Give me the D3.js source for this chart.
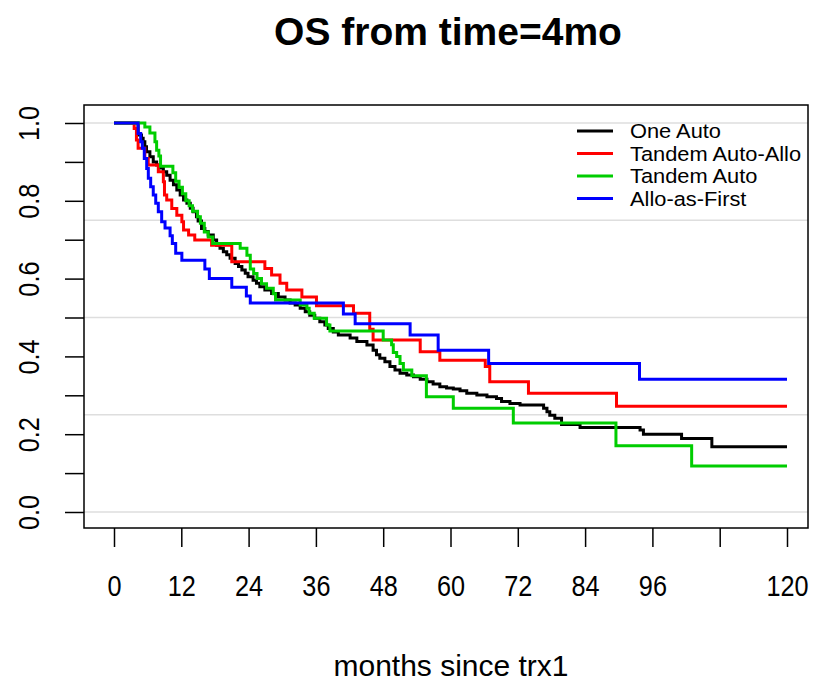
<!DOCTYPE html>
<html>
<head>
<meta charset="utf-8">
<script src="https://cdn.jsdelivr.net/npm/d3@7"></script>
<style>
  html, body { margin: 0; padding: 0; background: #fff; }
  svg { display: block; }
  text { font-family: "Liberation Sans", Arial, sans-serif; fill: #000; }
</style>
</head>
<body>
<svg id="chart" width="816" height="683"></svg>
<script>
// ---- data ----
const seriesNames = ["One Auto", "Tandem Auto-Allo", "Tandem Auto", "Allo-as-First"];
const seriesColors = ["#000000", "#ff0000", "#00cd00", "#0000ff"];

const oneAuto = [[0,1],[4.3,0.969],[4.9,0.961],[5.2,0.952],[5.5,0.939],[5.8,0.926],[6.4,0.913],[7.0,0.900],[7.6,0.892],[8.2,0.884],[8.8,0.875],[9.4,0.866],[10.0,0.853],[10.6,0.841],[11.2,0.828],[11.8,0.815],[12.4,0.802],[13.0,0.794],[13.6,0.781],[14.1,0.772],[14.7,0.759],[15.0,0.748],[15.6,0.729],[16.2,0.721],[16.8,0.712],[17.7,0.699],[18.3,0.686],[18.9,0.678],[19.5,0.669],[20.1,0.661],[20.7,0.652],[21.6,0.639],[22.2,0.631],[22.8,0.622],[23.4,0.614],[23.9,0.605],[24.8,0.596],[25.4,0.588],[26.0,0.579],[26.9,0.571],[28.1,0.562],[29.3,0.553],[30.5,0.545],[31.4,0.537],[32.3,0.532],[33.2,0.524],[34.1,0.515],[34.9,0.506],[35.8,0.498],[36.7,0.489],[37.6,0.481],[38.2,0.472],[39.1,0.463],[40.0,0.455],[42.1,0.447],[43.3,0.438],[45.1,0.429],[46.2,0.416],[46.8,0.404],[47.4,0.395],[48.3,0.386],[49.2,0.374],[50.1,0.365],[51.0,0.357],[52.2,0.352],[53.4,0.348],[54.6,0.341],[55.8,0.335],[56.9,0.329],[58.1,0.322],[59.3,0.319],[60.5,0.316],[61.7,0.312],[62.9,0.305],[64.7,0.301],[66.5,0.296],[68.2,0.292],[69.1,0.284],[70.6,0.279],[72.4,0.275],[76.6,0.267],[77.2,0.258],[77.7,0.249],[78.6,0.241],[79.8,0.225],[83.1,0.217],[93.8,0.211],[94.4,0.200],[101.2,0.189],[106.6,0.168],[120,0.168]];

const tandemAutoAllo = [[0,1],[3.6,0.986],[4.0,0.956],[4.3,0.935],[5.5,0.909],[6.1,0.892],[7.9,0.875],[8.8,0.849],[9.0,0.815],[9.4,0.802],[10.3,0.780],[11.2,0.763],[12.1,0.746],[12.4,0.725],[13.3,0.712],[14.4,0.699],[17.4,0.686],[21.0,0.643],[26.9,0.626],[28.1,0.609],[29.6,0.588],[30.8,0.571],[33.5,0.553],[36.1,0.530],[42.7,0.511],[45.6,0.470],[46.2,0.442],[54.6,0.412],[58.1,0.390],[66.2,0.374],[67.0,0.335],[73.9,0.305],[89.6,0.272],[120,0.272]];

const tandemAuto = [[0,1],[5.5,0.990],[6.4,0.974],[7.3,0.952],[7.6,0.930],[8.0,0.915],[8.3,0.889],[10.5,0.872],[11.0,0.850],[11.6,0.835],[12.2,0.818],[12.8,0.800],[13.4,0.787],[14.0,0.773],[14.9,0.759],[15.4,0.742],[16.1,0.720],[16.8,0.707],[17.6,0.690],[22.5,0.678],[23.7,0.660],[24.3,0.625],[24.9,0.613],[25.5,0.600],[26.3,0.587],[27.2,0.575],[28.4,0.561],[28.8,0.545],[33.2,0.532],[34.4,0.524],[34.8,0.511],[35.7,0.498],[37.9,0.481],[38.5,0.465],[48.0,0.442],[49.5,0.430],[49.8,0.410],[50.4,0.400],[51.0,0.382],[51.6,0.365],[53.1,0.350],[55.7,0.296],[60.5,0.267],[71.2,0.229],[89.5,0.170],[103.0,0.118],[120,0.118]];

const alloFirst = [[0,1],[4.3,0.973],[4.76,0.952],[5.05,0.935],[5.4,0.909],[5.83,0.883],[6.12,0.858],[6.54,0.836],[7.0,0.815],[7.44,0.794],[7.9,0.772],[8.5,0.746],[9.1,0.730],[10.0,0.710],[10.4,0.690],[11.0,0.665],[12.1,0.647],[16.2,0.625],[17.0,0.600],[21.0,0.578],[23.6,0.555],[24.3,0.537],[40.9,0.509],[43.0,0.484],[52.8,0.455],[57.8,0.416],[66.8,0.382],[93.7,0.341],[120,0.341]];

const xTicks = [0,12,24,36,48,60,72,84,96,108,120];
const xTickLabels = ["0","12","24","36","48","60","72","84","96","","120"];
const yTicks = [0,0.1,0.2,0.3,0.4,0.5,0.6,0.7,0.8,0.9,1.0];
const yTickLabels = ["0.0","","0.2","","0.4","","0.6","","0.8","","1.0"];
const gridValues = [0,0.25,0.5,0.75,1];

const titleText = "OS from time=4mo";
const xLabelText = "months since trx1";

// ---- layout ----
const box = {left: 84, right: 808, top: 105, bottom: 528};
const svg = d3.select("#chart");
const x = d3.scaleLinear().domain([0,120]).range([114, 787]);
const y = d3.scaleLinear().domain([0,1]).range([512, 123]);
const FONT = "'Liberation Sans', Arial, sans-serif";

// grid
svg.append("g").selectAll("line").data(gridValues).join("line")
  .attr("x1", box.left).attr("x2", box.right)
  .attr("y1", d => y(d)).attr("y2", d => y(d))
  .attr("stroke", "#dedede").attr("stroke-width", 1.5);

// curves
const line = d3.line().x(d => x(d[0])).y(d => y(d[1])).curve(d3.curveStepAfter);
const allSeries = [oneAuto, tandemAutoAllo, tandemAuto, alloFirst];
svg.append("g").selectAll("path").data(allSeries).join("path")
  .attr("d", d => line(d))
  .attr("fill", "none")
  .attr("stroke", (d,i) => seriesColors[i])
  .attr("stroke-width", 3)
  .attr("stroke-linejoin", "miter");

// box
svg.append("rect")
  .attr("x", box.left).attr("y", box.top)
  .attr("width", box.right - box.left).attr("height", box.bottom - box.top)
  .attr("fill", "none").attr("stroke", "#000").attr("stroke-width", 1.5);

// x axis
const xAxis = d3.axisBottom(x).tickValues(xTicks).tickSize(19).tickPadding(28)
  .tickFormat((d,i) => xTickLabels[i]);
const gx = svg.append("g").attr("transform", `translate(0,${box.bottom})`).call(xAxis);
gx.select(".domain").remove();
gx.selectAll(".tick line").attr("stroke", "#000").attr("stroke-width", 1.5);
gx.selectAll(".tick text").attr("font-size", 29).attr("fill", "#111")
  .style("font-family", FONT)
  .attr("transform", "scale(0.87,1)");

// y axis
const yAxis = d3.axisLeft(y).tickValues(yTicks).tickSize(19)
  .tickFormat((d,i) => yTickLabels[i]);
const gy = svg.append("g").attr("transform", `translate(${box.left},0)`).call(yAxis);
gy.select(".domain").remove();
gy.selectAll(".tick line").attr("stroke", "#000").attr("stroke-width", 1.5);
gy.selectAll(".tick text")
  .attr("font-size", 29).attr("fill", "#111")
  .style("font-family", FONT)
  .attr("text-anchor", "middle")
  .attr("x", 0).attr("y", -45).attr("dy", 0)
  .attr("transform", "rotate(-90) scale(0.87,1)");

// title
svg.append("text").attr("x", 448).attr("y", 45)
  .attr("text-anchor", "middle").attr("font-size", 39).attr("font-weight", "bold")
  .text(titleText);

// x label
svg.append("text").attr("x", 451).attr("y", 676)
  .attr("text-anchor", "middle").attr("font-size", 30).attr("fill", "#111")
  .text(xLabelText);

// legend
const lg = svg.append("g");
seriesNames.forEach((name, i) => {
  const ly = 131 + i * 22.5;
  lg.append("line").attr("x1", 577).attr("x2", 613).attr("y1", ly).attr("y2", ly)
    .attr("stroke", seriesColors[i]).attr("stroke-width", 3);
  lg.append("text").attr("transform", `translate(630,${ly + 7}) scale(1.12,1)`)
    .attr("font-size", 19.5).attr("fill", "#111").text(name);
});
</script>
</body>
</html>
